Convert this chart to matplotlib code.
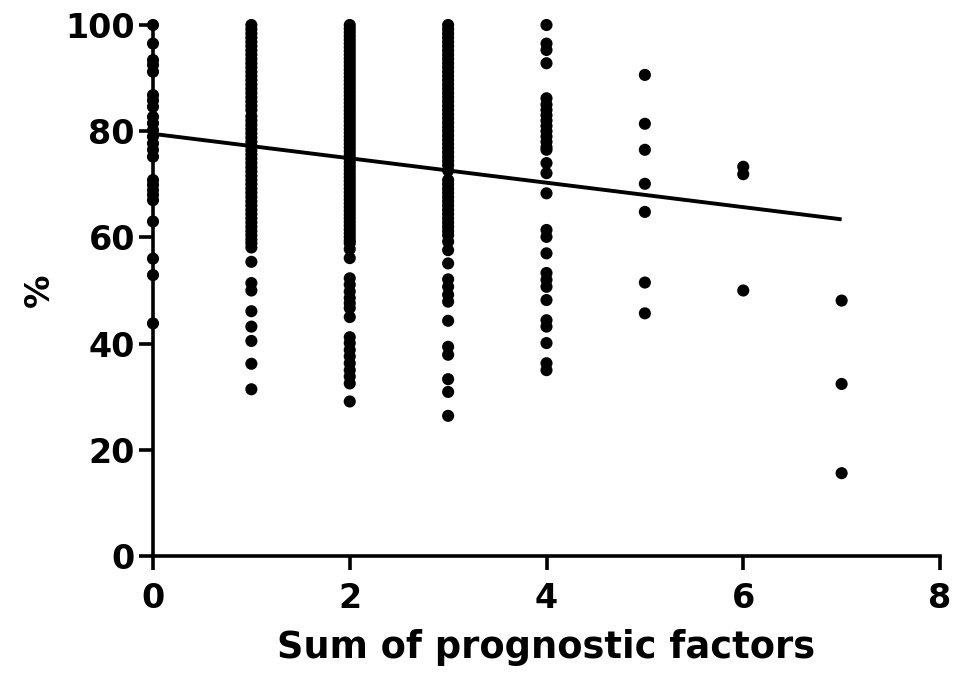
import matplotlib
matplotlib.use("Agg")
import matplotlib.pyplot as plt
import numpy as np

# Percentage per patient, grouped by the sum of prognostic factors
factor_sums = [0, 1, 2, 3, 4, 5, 6, 7]

pct_0 = [100, 96.5, 93.4, 92.5, 91.2, 86.8, 85.8, 84.6, 82.7, 81.5, 80.2, 79.0,
         77.7, 76.5, 75.2, 70.8, 69.9, 68.9, 68.0, 67.0, 63.0, 56.0, 52.9, 43.8]

pct_1 = [100, 99.2, 98.4, 97.6, 96.8, 96.0, 95.2, 94.4, 93.6, 92.8, 92.0, 91.2,
         90.4, 89.6, 88.8, 88.0, 87.2, 86.4, 85.6, 84.8, 84.0, 82.8, 82.0, 81.2,
         80.4, 79.6, 78.8, 78.0, 77.2, 76.4, 75.6, 74.8, 74.0, 73.2, 72.4, 71.6,
         70.8, 70.0, 69.2, 68.4, 67.6, 66.8, 66.0, 65.2, 64.4, 63.6, 62.8, 62.0,
         61.2, 60.4, 59.6, 58.9, 58.1, 55.4, 51.4, 50.0, 46.1, 43.2, 40.5, 36.2,
         31.4]

pct_2 = [100, 99.3, 98.6, 97.9, 97.2, 96.5, 95.8, 95.1, 94.4, 93.7, 93.0, 92.3,
         91.6, 90.9, 90.2, 89.5, 88.8, 88.1, 87.4, 86.7, 86.0, 85.3, 84.6, 83.9,
         83.2, 82.5, 81.8, 81.1, 80.4, 79.7, 79.0, 78.3, 77.6, 76.9, 76.2, 75.5,
         74.8, 74.1, 73.4, 72.7, 72.0, 71.3, 70.6, 69.9, 69.2, 68.5, 67.8, 67.1,
         66.4, 65.7, 65.0, 64.3, 63.6, 62.9, 62.2, 61.5, 60.8, 60.1, 59.4, 58.9,
         57.8, 56.1, 52.3, 51.1, 49.8, 48.6, 47.6, 46.7, 45.0, 41.2, 40.1, 38.8,
         37.6, 36.3, 35.0, 33.8, 32.5, 29.1]

pct_3 = [100, 99.2, 98.4, 97.6, 96.8, 96.0, 95.2, 94.4, 93.6, 92.8, 92.0, 91.2,
         90.4, 89.6, 88.8, 88.0, 87.2, 86.4, 85.6, 84.8, 84.0, 83.2, 82.4, 81.6,
         80.8, 80.0, 79.2, 78.4, 77.6, 76.8, 76.0, 75.2, 74.4, 73.6, 72.6, 70.8,
         70.0, 69.2, 68.4, 67.6, 66.8, 66.0, 65.2, 64.4, 63.6, 62.8, 62.0, 61.2,
         60.4, 59.2, 57.6, 55.1, 52.1, 50.7, 49.2, 47.9, 44.3, 39.4, 37.9, 33.3,
         30.9, 26.4]

pct_4 = [100, 96.5, 95.3, 92.8, 86.2, 85.0, 84.0, 83.0, 82.0, 81.0, 80.0, 79.0,
         78.0, 77.0, 76.5, 74.0, 72.1, 68.3, 61.4, 60.1, 57.0, 53.3, 52.0, 50.7,
         48.2, 44.4, 43.2, 40.1, 36.3, 35.0]

pct_5 = [90.6, 81.4, 76.5, 70.1, 64.8, 51.5, 45.7]
pct_6 = [73.3, 71.9, 50.0]
pct_7 = [48.1, 32.4, 15.6]

groups = [pct_0, pct_1, pct_2, pct_3, pct_4, pct_5, pct_6, pct_7]

# Linear regression line
fit_intercept = 79.5
fit_slope = -2.3
fit_x = [0, 7]

x_ticks = [0, 2, 4, 6, 8]
y_ticks = [0, 20, 40, 60, 80, 100]

plt.rcParams["font.family"] = "DejaVu Sans"
plt.rcParams["font.weight"] = "bold"

fig = plt.figure(figsize=(9.59, 6.89), dpi=100)
ax = fig.add_axes([153 / 959, 1 - 556 / 689, 787 / 959, 531 / 689])

for s, vals in zip(factor_sums, groups):
    ax.scatter(np.full(len(vals), s), vals, s=76, color="black",
               edgecolors="none", zorder=3, clip_on=False)

fx = np.array(fit_x, dtype=float)
ax.plot(fx, fit_intercept + fit_slope * fx, color="black", lw=2.8,
        solid_capstyle="butt", zorder=4, clip_on=False)

ax.set_xlim(0, 8)
ax.set_ylim(0, 100)
ax.set_xticks(x_ticks)
ax.set_yticks(y_ticks)

for side in ("top", "right"):
    ax.spines[side].set_visible(False)
for side in ("left", "bottom"):
    ax.spines[side].set_linewidth(2.6)
    ax.spines[side].set_capstyle("projecting")

ax.tick_params(axis="both", direction="out", length=10, width=2.6,
               color="black", labelsize=24)
ax.tick_params(axis="x", pad=9)
ax.tick_params(axis="y", pad=3)
for lbl in ax.get_xticklabels() + ax.get_yticklabels():
    lbl.set_fontweight("bold")

ax.set_xlabel("Sum of prognostic factors", weight="bold", fontsize=26.5,
              labelpad=10)
ax.set_ylabel("%", weight="bold", fontsize=24, labelpad=7)

fig.savefig("out.png", dpi=100, facecolor="white")
